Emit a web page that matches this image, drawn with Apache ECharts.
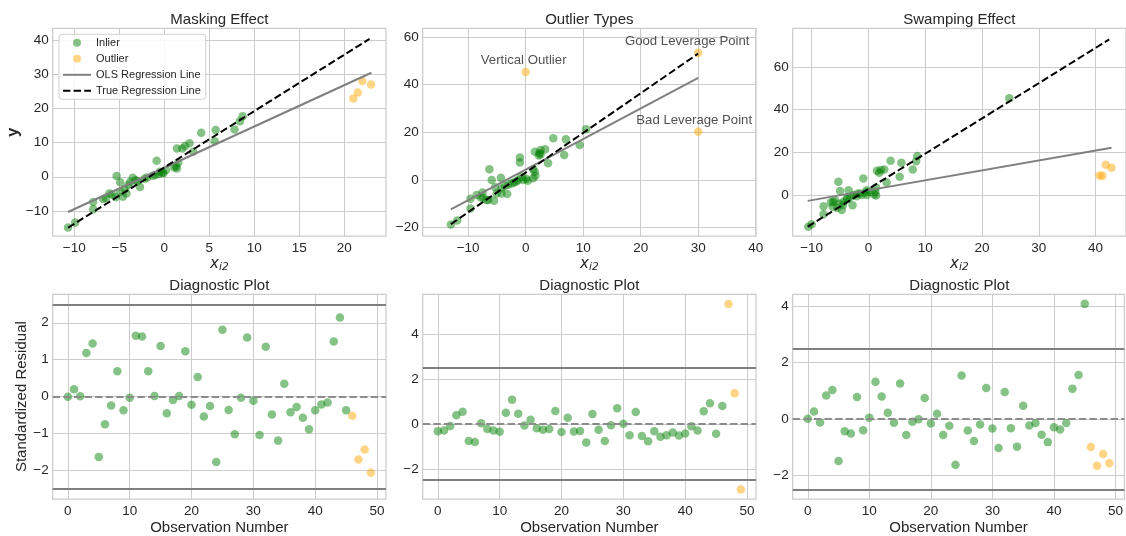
<!DOCTYPE html>
<html><head><meta charset="utf-8">
<script src="https://cdn.jsdelivr.net/npm/echarts@6/dist/echarts.min.js"></script>
<style>html,body{margin:0;padding:0;background:#fff}#c{width:1126px;height:536px}</style>
</head><body><div id="c"></div>
<script>
// ---------------- DATA ----------------
const panelTitles = ['Masking Effect', 'Outlier Types', 'Swamping Effect', 'Diagnostic Plot', 'Diagnostic Plot', 'Diagnostic Plot'];
const legendNames = ['Inlier', 'Outlier', 'OLS Regression Line', 'True Regression Line'];

// Masking effect
const maskInliers = [[-10.7,-14.8],[-9.9,-13.4],[-7.9,-7.4],[-7.9,-9.5],[-6.1,-4.9],[-6.5,-6.2],[-5.3,0.2],[-4.9,-1.6],[-5.4,-6.0],[-4.9,-4.4],
  [-4.6,-5.8],[-4.0,-2.4],[-3.5,-0.3],[-3.2,-1.0],[-2.7,-3.0],[-1.9,-0.2],[-0.85,4.7],[-1.0,0.5],[-0.5,1.5],[-0.2,1.2],
  [-0.1,1.0],[1.3,3.1],[1.4,2.4],[1.55,4.1],[1.4,8.3],[2.0,8.3],[2.3,9.0],[2.8,9.8],[3.2,7.3],[4.1,12.9],
  [5.6,10.4],[5.7,13.7],[7.8,13.8],[8.4,16.2],[8.7,17.7],[-5.8,-5.2],[-4.4,-3.6],[-3.8,-1.5],[-3.0,-1.3],[-2.2,-0.6],
  [-1.3,0.3],[-0.6,0.8],[0.2,2.0],[1.1,2.7],[-6.8,-6.5],[-4.2,-4.9]];
const maskOutliers = [[21.0,22.9],[21.5,24.6],[22.0,28.0],[22.97,27.0]];
const maskOLS = [[-10.7,-10.3],[23.0,30.4]];
const maskTrue = [[-10.7,-14.9],[22.8,40.3]];

// Outlier types
const typesInliers = [[-13.0,-18.6],[-11.9,-17.0],[-9.6,-11.9],[-9.6,-7.8],[-7.5,-5.2],[-7.8,-7.3],[-6.3,4.5],[-5.9,0.0],[-6.8,-8.4],[-5.5,-8.7],
  [-5.05,-5.6],[-4.3,1.0],[-4.2,-3.5],[-3.2,-5.9],[-2.4,-1.4],[-1.0,9.4],[-1.0,7.4],[-1.3,0.0],[-0.4,0.0],[-0.7,1.4],
  [1.3,0.7],[1.6,3.5],[1.7,1.8],[1.6,11.9],[2.4,11.2],[2.6,12.6],[3.4,12.9],[3.9,7.0],[4.8,17.5],[7.0,17.1],
  [6.7,10.5],[9.4,14.7],[10.5,21.3],[1.3,4.5],[-5.3,-3.0],[-7.4,-7.3],[-6.5,-8.4],[-4.2,-5.6],[-3.6,-2.4],[-2.0,-1.0],
  [-1.6,-0.6],[0.1,0.5],[0.4,-0.3],[2.6,10.8],[2.3,10.3],[-8.5,-6.3],[-3.0,-2.0]];
const typesOutliers = [[0,45.3],[30,53.3],[30,20.2]];
const typesOutlierNames = ['Vertical Outlier', 'Good Leverage Point', 'Bad Leverage Point'];
const typesOLS = [[-13.0,-12.3],[30.0,42.8]];
const typesTrue = [[-13.0,-18.5],[30.0,53.0]];

// Swamping effect
const swampInliers = [[-10.6,-14.8],[-10.0,-13.7],[-7.9,-5.2],[-7.9,-9.0],[-6.2,-3.1],[-5.3,6.2],[-5.0,1.9],[-6.3,-5.5],[-4.7,-7.0],[-5.1,-4.1],
  [-3.5,2.3],[-3.8,-1.6],[-4.4,-3.1],[-2.8,-4.7],[-2.6,0.0],[-1.5,0.8],[-0.9,7.8],[-0.3,2.3],[-0.3,0.0],[-1.2,0.0],
  [1.2,1.6],[1.35,-0.2],[1.35,3.6],[1.5,11.4],[1.9,10.5],[2.2,11.7],[2.8,12.0],[3.2,5.9],[3.9,16.1],[5.8,15.1],
  [5.5,8.6],[7.8,12.0],[8.4,15.9],[8.6,18.3],[24.8,45.3],[-6.6,-3.3],[-5.9,-2.3],[-5.5,-6.0],[-3.7,-2.0],[-3.2,-0.9],
  [-2.1,-0.5],[-1.9,0.6],[-0.5,1.2],[0.2,1.5],[-4.5,-4.6],[1.0,0.3]];
const swampOutliers = [[40.7,9.2],[41.2,9.0],[41.8,14.2],[42.8,12.8]];
const swampOLS = [[-10.7,-2.7],[42.8,22.2]];
const swampTrue = [[-10.7,-14.8],[42.4,72.9]];

// Diagnostic residuals (observation number = position in the combined list)
const diagMaskIn = [0.0,0.20,0.01,1.18,1.44,-1.63,-0.75,-0.24,0.69,-0.37,-0.03,1.65,1.63,0.69,0.02,1.37,-0.45,-0.09,0.02,1.23,
  -0.22,0.53,-0.54,-0.25,-1.77,1.81,-0.36,-1.02,-0.03,1.60,-0.11,-1.04,1.35,-0.48,-1.19,0.35,-0.42,-0.28,-0.57,-0.88,
  -0.37,-0.21,-0.16,1.49,2.14,-0.37];
const diagMaskOut = [-0.52,-1.70,-1.43,-2.06];
const diagTypesIn = [-0.32,-0.29,-0.09,0.39,0.54,-0.76,-0.80,0.03,-0.23,-0.29,-0.35,0.50,1.08,0.45,-0.07,0.19,-0.19,-0.26,-0.22,0.58,
  -0.36,0.28,-0.34,-0.31,-0.82,0.44,-0.26,-0.76,-0.06,0.70,0.01,-0.50,0.53,-0.54,-0.77,-0.32,-0.57,-0.50,-0.38,-0.51,
  -0.42,-0.10,-0.29,0.57,0.92,-0.44,0.80];
const diagTypesOut = [5.34,1.37,-2.92];
const diagSwampIn = [0.01,0.27,-0.12,0.84,1.03,-1.49,-0.43,-0.51,0.78,-0.40,0.05,1.32,0.80,0.22,-0.13,1.26,-0.57,-0.10,-0.01,0.75,
  -0.16,0.19,-0.57,-0.24,-1.62,1.55,-0.41,-0.78,-0.19,1.10,-0.34,-1.03,0.96,-0.33,-0.98,0.47,-0.23,-0.14,-0.56,-0.82,
  -0.29,-0.37,-0.14,1.08,1.56,4.09];
const diagSwampOut = [-0.99,-1.66,-1.24,-1.57];
const cutoffs = [2.5, -2.5];
const centerLine = 0;

// Axis ranges and tick labels
const xRanges = [[-12.4,24.63],[-17.9,40.05],[-13.34,45.35],[-2.45,51.45],[-2.45,51.45],[-2.45,51.45]];
const yRanges = [[-17.34,43.4],[-23.5,63.6],[-19.2,78.1],[-2.77,2.77],[-3.34,5.77],[-2.84,4.43]];
const xTicks = [[-10,-5,0,5,10,15,20],[-10,0,10,20,30,40],[-10,0,10,20,30,40],[0,10,20,30,40,50],[0,10,20,30,40,50],[0,10,20,30,40,50]];
const yTicks = [[-10,0,10,20,30,40],[-20,0,20,40,60],[0,20,40,60],[-2,-1,0,1,2],[-2,0,2,4],[-2,0,2,4]];

// ---------------- CHART ----------------
const FONT = '"Liberation Sans", Arial, sans-serif';
const TXT = '#262626';
const GRIDC = '#cccccc';
const GREEN = 'rgba(0,128,0,0.6)';
const ORANGE = 'rgba(255,165,0,0.6)';
const panelLeft = [52.7, 422.7, 792.7], panelTop = [28.3, 294.3], panelW = 333.3, panelH = 207.8;

function fmt(v) { return v < 0 ? '\u2212' + Math.abs(v) : String(v); }

const grids = [], xAxes = [], yAxes = [], series = [], titles = [];
for (let i = 0; i < 6; i++) {
  const col = i % 3, row = Math.floor(i / 3);
  grids.push({left: panelLeft[col], top: panelTop[row], width: panelW, height: panelH, show: true,
    borderColor: GRIDC, borderWidth: 1.25, backgroundColor: '#fff'});
  const xa = {type: 'value', gridIndex: i, min: xRanges[i][0], max: xRanges[i][1],
    axisLine: {show: false}, axisTick: {show: false, customValues: xTicks[i]},
    splitLine: {show: true, lineStyle: {color: GRIDC, width: 1}},
    axisLabel: {customValues: xTicks[i], formatter: fmt, margin: 5, color: TXT, fontSize: 13.5, fontFamily: FONT}};
  if (row === 0) {
    xa.name = '{i|x}{s|i2}';
    xa.nameLocation = 'middle';
    xa.nameGap = 19;
    xa.nameTextStyle = {rich: {
      i: {fontFamily: 'DejaVu Sans', fontStyle: 'italic', fontSize: 15, color: TXT, lineHeight: 18},
      s: {fontFamily: 'DejaVu Sans', fontStyle: 'italic', fontSize: 10.5, color: TXT, verticalAlign: 'bottom', lineHeight: 11}
    }};
  } else {
    xa.name = 'Observation Number';
    xa.nameLocation = 'middle';
    xa.nameGap = 21;
    xa.nameTextStyle = {fontSize: 15, color: TXT, fontFamily: FONT};
  }
  xAxes.push(xa);
  const ya = {type: 'value', gridIndex: i, min: yRanges[i][0], max: yRanges[i][1],
    axisLine: {show: false}, axisTick: {show: false, customValues: yTicks[i]},
    splitLine: {show: true, lineStyle: {color: GRIDC, width: 1}},
    axisLabel: {customValues: yTicks[i], formatter: fmt, margin: 4, color: TXT, fontSize: 13.5, fontFamily: FONT}};
  if (i === 0) {
    ya.name = 'y'; ya.nameLocation = 'middle'; ya.nameGap = 27;
    ya.nameTextStyle = {fontSize: 17, fontWeight: 'bold', color: TXT, fontFamily: FONT};
  }
  if (i === 3) {
    ya.name = 'Standardized Residual'; ya.nameLocation = 'middle'; ya.nameGap = 23;
    ya.nameTextStyle = {fontSize: 15, color: TXT, fontFamily: FONT};
  }
  yAxes.push(ya);
  titles.push({text: panelTitles[i], left: panelLeft[col] + panelW / 2, top: row === 0 ? 12 : 278,
    textAlign: 'center', padding: 0,
    textStyle: {fontSize: 15, fontWeight: 'normal', color: TXT, fontFamily: FONT}});
}

function scatter(idx, name, data, color) {
  series.push({type: 'scatter', name: name, xAxisIndex: idx, yAxisIndex: idx, data: data,
    symbolSize: 8.5, itemStyle: {color: color}, z: 2, silent: true});
}
function lines(idx, ols, tru) {
  series.push({type: 'line', name: legendNames[2], xAxisIndex: idx, yAxisIndex: idx, data: ols, symbol: 'none',
    itemStyle: {color: '#808080'}, lineStyle: {color: '#808080', width: 2}, z: 3, silent: true});
  series.push({type: 'line', name: legendNames[3], xAxisIndex: idx, yAxisIndex: idx, data: tru, symbol: 'none',
    itemStyle: {color: '#000000'}, lineStyle: {color: '#000000', width: 2, type: [7.4, 3.2]}, z: 4, silent: true});
}

// panel 0
scatter(0, legendNames[0], maskInliers, GREEN);
scatter(0, legendNames[1], maskOutliers, ORANGE);
lines(0, maskOLS, maskTrue);
// panel 1
scatter(1, legendNames[0], typesInliers, GREEN);
const labelOffsets = [[-2, 0], [-11, 0], [-4, 0]];
series.push({type: 'scatter', name: legendNames[1], xAxisIndex: 1, yAxisIndex: 1, symbolSize: 8.5,
  itemStyle: {color: ORANGE}, z: 2, silent: true,
  data: typesOutliers.map((p, k) => ({value: p, label: {show: true, formatter: typesOutlierNames[k],
    position: 'top', distance: 1, offset: labelOffsets[k], fontSize: 13.2, color: TXT, fontFamily: FONT}}))});
lines(1, typesOLS, typesTrue);
// panel 2
scatter(2, legendNames[0], swampInliers, GREEN);
scatter(2, legendNames[1], swampOutliers, ORANGE);
lines(2, swampOLS, swampTrue);

// diagnostics
const diag = [[diagMaskIn, diagMaskOut], [diagTypesIn, diagTypesOut], [diagSwampIn, diagSwampOut]];
diag.forEach((d, k) => {
  const idx = 3 + k;
  const inl = d[0].map((v, j) => [j, v]);
  const outl = d[1].map((v, j) => [d[0].length + j, v]);
  series.push({type: 'scatter', name: legendNames[0], xAxisIndex: idx, yAxisIndex: idx, data: inl,
    symbolSize: 8.5, itemStyle: {color: GREEN}, z: 3, silent: true,
    markLine: {silent: true, symbol: ['none', 'none'], label: {show: false}, animation: false,
      data: [
        ...cutoffs.map(c => ({yAxis: c, lineStyle: {color: '#808080', width: 2, type: 'solid'}})),
        {yAxis: centerLine, lineStyle: {color: '#8c8c8c', width: 2, type: [7.4, 3.2]}}
      ]}});
  series.push({type: 'scatter', name: legendNames[1], xAxisIndex: idx, yAxisIndex: idx, data: outl,
    symbolSize: 8.5, itemStyle: {color: ORANGE}, z: 3, silent: true});
});

const chart = echarts.init(document.getElementById('c'), null, {renderer: 'canvas'});
chart.setOption({
  animation: false,
  backgroundColor: '#ffffff',
  title: titles,
  grid: grids,
  xAxis: xAxes,
  yAxis: yAxes,
  legend: {data: [
      {name: legendNames[0]}, {name: legendNames[1]},
      {name: legendNames[2], itemStyle: {opacity: 0}},
      {name: legendNames[3], itemStyle: {opacity: 0}}
    ],
    orient: 'vertical', left: 59, top: 34.3, padding: [3, 5, 3, 3],
    itemWidth: 28, itemHeight: 8, itemGap: 5, backgroundColor: 'rgba(255,255,255,0.85)',
    borderColor: '#d0d0d0', borderWidth: 1, borderRadius: 3, selectedMode: false,
    textStyle: {fontSize: 11, color: TXT, fontFamily: FONT}},
  series: series
});
</script>
</body></html>
